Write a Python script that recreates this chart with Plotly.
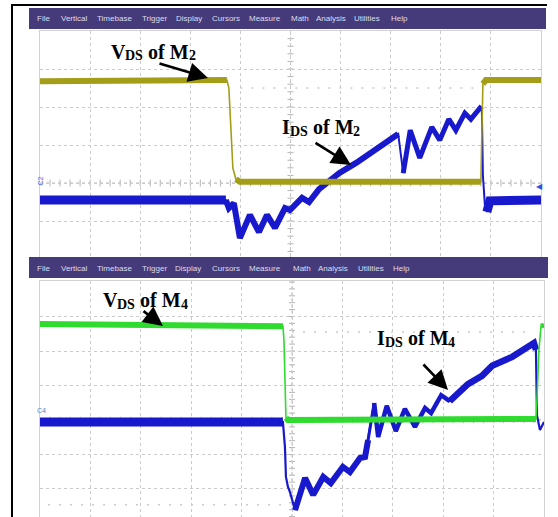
import plotly.graph_objects as go

W, H = 558, 517

# ---- waveform data, in screen divisions (x: time div, y: vertical div from centre) ----
# Upper capture: M2
m2_t_v = [0.00, 3.73, 3.77, 3.81, 3.85, 3.91, 3.99, 8.80, 8.82, 8.84, 8.90, 10.00]
m2_vds = [2.68, 2.71, 2.50, 1.39, 0.39, 0.10, 0.03, 0.03, 1.66, 2.61, 2.71, 2.71]

m2_t_i = [0.00, 3.71, 3.77, 3.87, 3.93, 3.99, 4.19, 4.37, 4.53, 4.69, 4.89, 4.99,
          5.23, 5.37, 5.57, 5.97, 6.31, 7.15, 7.25, 7.39, 7.58, 7.82, 7.98, 8.16,
          8.30, 8.48, 8.60, 8.78, 8.82, 8.84, 8.88, 8.92, 8.98, 10.00]
m2_ids = [-0.45, -0.45, -0.66, -0.53, -0.92, -1.45, -0.84, -1.29, -0.84, -1.18, -0.66, -0.71,
          -0.39, -0.50, -0.16, 0.26, 0.53, 1.29, 0.26, 1.39, 0.66, 1.47, 1.13, 1.68,
          1.39, 1.84, 1.68, 1.97, 1.92, 0.21, -0.58, -0.76, -0.47, -0.45]

# Lower capture: M4
m4_t_v = [0.00, 2.18, 4.82, 4.84, 4.86, 4.88, 4.92, 9.84, 9.86, 9.90, 9.94, 10.00]
m4_vds = [2.78, 2.75, 2.72, 2.32, 0.58, 0.06, 0.00, 0.03, 0.58, 2.03, 2.72, 2.75]

m4_t_i = [0.00, 4.82, 4.86, 4.88, 4.92, 4.96, 5.06, 5.26, 5.42, 5.62, 5.77, 6.01,
          6.15, 6.35, 6.45, 6.51, 6.57, 6.63, 6.71, 6.88, 7.06, 7.24, 7.44, 7.64,
          7.76, 7.96, 8.13, 8.49, 8.77, 8.97, 9.37, 9.80, 9.84, 9.86, 9.92, 9.98, 10.00]
m4_ids = [-0.06, -0.06, -0.78, -1.65, -1.94, -2.09, -2.61, -1.68, -2.17, -1.65, -1.83, -1.36,
          -1.51, -1.10, -1.07, -0.58, 0.00, 0.49, -0.49, 0.41, -0.32, 0.32, -0.20, 0.35,
          0.20, 0.72, 0.55, 1.04, 1.28, 1.57, 1.83, 2.23, 2.03, 0.14, -0.29, -0.09, -0.06]

menu_items = ["File", "Vertical", "Timebase", "Trigger", "Display", "Cursors",
              "Measure", "Math", "Analysis", "Utilities", "Help"]

# ---- styling ----
YELLOW = "#a39d18"
BLUE = "#1818cc"
GREEN = "#2edb2e"
MENU_BG = "#463b7a"
GRID = "#cbcbcb"


def px_x(p):
    return p / W


def px_y(p):
    return 1 - p / H


fig = go.Figure()


def add_wave(t, v, color, pieces, xa, ya):
    # thin full-length trace for the fast edges, thicker bands for the noisy plateaus
    for i0, i1, w in pieces:
        fig.add_trace(go.Scatter(
            x=t[i0:i1 + 1], y=v[i0:i1 + 1], mode="lines",
            line=dict(color=color, width=w), xaxis=xa, yaxis=ya,
            hoverinfo="skip", showlegend=False))


# upper: current first, voltage on top
add_wave(m2_t_i, m2_ids, BLUE,
         [(0, 33, 2), (0, 1, 9), (1, 17, 6), (18, 28, 5), (31, 33, 9)], "x", "y")
add_wave(m2_t_v, m2_vds, YELLOW,
         [(0, 11, 1.6), (0, 1, 6), (5, 7, 6), (9, 11, 6)], "x", "y")

# lower
add_wave(m4_t_i, m4_ids, BLUE,
         [(0, 36, 2.2), (0, 1, 9), (6, 15, 6), (15, 17, 3), (17, 26, 4.5), (26, 32, 6.5)],
         "x2", "y2")
add_wave(m4_t_v, m4_vds, GREEN,
         [(0, 11, 1.6), (0, 2, 6), (5, 7, 6), (10, 11, 5)], "x2", "y2")

axis_common = dict(showgrid=True, gridcolor=GRID, griddash="dot", gridwidth=1,
                   zeroline=False, showticklabels=False, ticks="",
                   showline=True, mirror=True, linecolor="#d2d2d2", linewidth=1,
                   fixedrange=True)

fig.update_layout(
    width=W, height=H, margin=dict(l=0, r=0, t=0, b=0),
    paper_bgcolor="white", plot_bgcolor="white", showlegend=False,
    xaxis=dict(domain=[px_x(40), px_x(541)], range=[0, 10], dtick=1, anchor="y", **axis_common),
    yaxis=dict(domain=[px_y(257), px_y(31)], range=[-1.947, 4.0], dtick=1, anchor="x", **axis_common),
    xaxis2=dict(domain=[px_x(40), px_x(544)], range=[0, 10], dtick=1, anchor="y2", **axis_common),
    yaxis2=dict(domain=[0, px_y(281)], range=[-2.812, 4.029], dtick=1, anchor="x2", **axis_common),
)

shapes = []

# centre reticle lines with minor ticks
for xr, yr, ylo, yhi in [("x", "y", -1.947, 4.0), ("x2", "y2", -2.812, 4.029)]:
    shapes.append(dict(type="line", xref=xr, yref=yr, x0=0, x1=10, y0=0, y1=0,
                       line=dict(color="#bdbdbd", width=1, dash="dot"), layer="below"))
    shapes.append(dict(type="line", xref=xr, yref=yr, x0=5, x1=5, y0=ylo, y1=yhi,
                       line=dict(color="#bdbdbd", width=1, dash="dot"), layer="below"))
    for k in range(1, 50):
        xt = k * 0.2
        shapes.append(dict(type="line", xref=xr, yref=yr, x0=xt, x1=xt, y0=-0.09, y1=0.09,
                           line=dict(color="#b4b4b4", width=1), layer="below"))
    k = -20
    while k * 0.2 < yhi:
        yt = k * 0.2
        if yt > ylo:
            shapes.append(dict(type="line", xref=xr, yref=yr, x0=4.94, x1=5.06, y0=yt, y1=yt,
                               line=dict(color="#b4b4b4", width=1), layer="below"))
        k += 1

# sparse dotted reference lines
for xr, yr, xa, xb, yv in [("x", "y", 4.0, 8.8, 2.5), ("x2", "y2", 5.0, 9.7, 2.55),
                           ("x2", "y2", 0.16, 4.8, -2.46)]:
    shapes.append(dict(type="line", xref=xr, yref=yr, x0=xa, x1=xb, y0=yv, y1=yv,
                       line=dict(color="#b0b0b0", width=1, dash="2px,9px"), layer="below"))

# menu bars
for top, bot, right in [(8, 29, 546), (257, 278, 548)]:
    shapes.append(dict(type="rect", xref="paper", yref="paper",
                       x0=px_x(29), x1=px_x(right), y0=px_y(bot), y1=px_y(top),
                       fillcolor=MENU_BG, line=dict(width=0), layer="above"))

# black frame
shapes.append(dict(type="line", xref="paper", yref="paper", x0=px_x(12), x1=px_x(12),
                   y0=0, y1=px_y(4), line=dict(color="black", width=2)))
shapes.append(dict(type="line", xref="paper", yref="paper", x0=px_x(11), x1=px_x(547),
                   y0=px_y(5), y1=px_y(5), line=dict(color="black", width=2)))

fig.update_layout(shapes=shapes)

annotations = []

# menu texts
menu_x_top = [35, 59, 95, 140, 174, 210, 247, 289, 314, 352, 389]
menu_x_bot = [35, 59, 95, 140, 173, 210, 247, 291, 316, 356, 391]
for xs, yc in [(menu_x_top, 18.5), (menu_x_bot, 268)]:
    for name, xp in zip(menu_items, xs):
        annotations.append(dict(text=name, x=px_x(xp), y=px_y(yc), xref="paper", yref="paper",
                                xanchor="left", yanchor="middle", showarrow=False,
                                font=dict(family="Liberation Sans, Arial", size=8,
                                          color="#dddcef")))

# trace labels, built from a main-size run and subscript runs
SERIF = "Liberation Serif, Times New Roman, serif"
BIG, SMALL = 20, 14
# (main letter, main width px, device number, left px, centre px)
labels = [
    ("V", 14.4, "2", 109, 52),
    ("I", 7.8, "2", 280, 127),
    ("V", 14.4, "4", 101, 300),
    ("I", 7.8, "4", 375, 338),
]
for letter, lw, num, x0, yc in labels:
    parts = [
        (letter, BIG, x0, yc),
        ("DS", SMALL, x0 + lw, yc + 4),
        ("of M", BIG, x0 + lw + 17.9 + 5, yc),
        (num, SMALL, x0 + lw + 17.9 + 5 + 40.6, yc + 4),
    ]
    for txt, sz, xp, yp in parts:
        annotations.append(dict(text=txt, x=px_x(xp), y=px_y(yp), xref="paper", yref="paper",
                                xanchor="left", yanchor="middle", showarrow=False,
                                font=dict(family=SERIF, size=sz, color="black", weight="bold")))

# arrows: (tail, head) in pixels
arrows = [((158, 63), (208, 78)), ((314, 142), (351, 165)),
          ((142, 310), (163, 326)), ((422, 363), (448, 390))]
for (tx, ty), (hx, hy) in arrows:
    annotations.append(dict(text="", x=px_x(hx), y=px_y(hy), xref="paper", yref="paper",
                            ax=tx - hx, ay=ty - hy, showarrow=True, arrowhead=2,
                            arrowsize=1.5, arrowwidth=2.6, arrowcolor="black"))

# channel markers
annotations.append(dict(text="C2", x=px_x(35), y=px_y(181), xref="paper", yref="paper",
                        showarrow=False, textangle=-90,
                        font=dict(family="Liberation Sans, Arial", size=7, color="#4a64e0")))
annotations.append(dict(text="C4", x=px_x(35), y=px_y(416), xref="paper", yref="paper",
                        showarrow=False,
                        font=dict(family="Liberation Sans, Arial", size=7, color="#3a8ac8")))
annotations.append(dict(text="◀", x=px_x(545), y=px_y(186), xref="paper", yref="paper",
                        showarrow=False,
                        font=dict(family="DejaVu Sans", size=8, color="#3050e0")))

fig.update_layout(annotations=annotations)

fig.write_html("out.html")
